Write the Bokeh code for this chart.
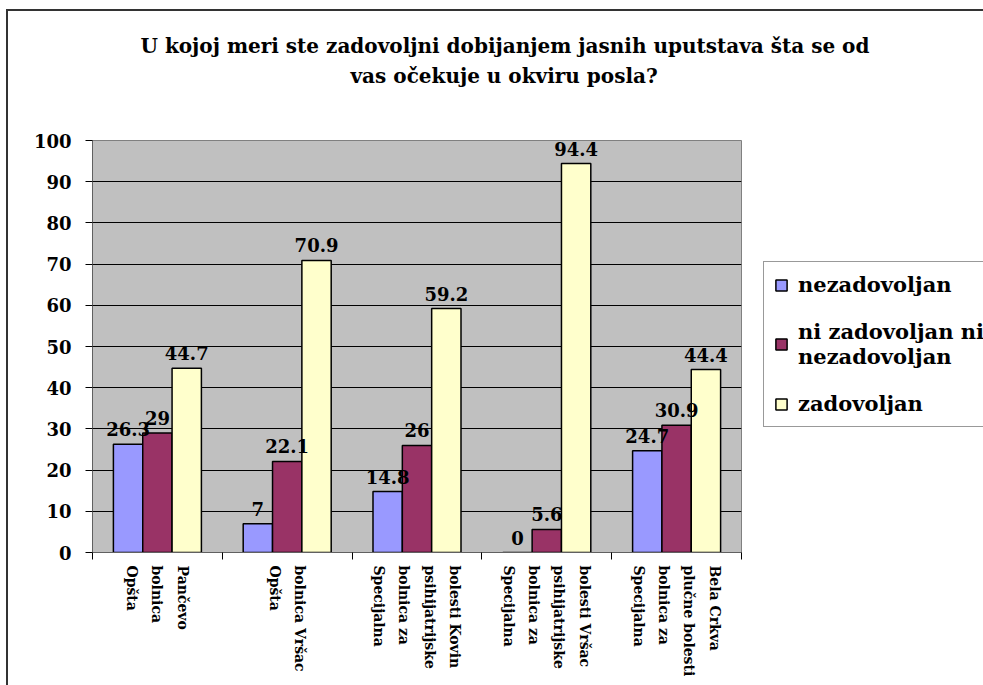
import numpy as np
from bokeh.plotting import figure
from bokeh.models import (ColumnDataSource, Range1d, FixedTicker, Label,
                          Legend, LegendItem, Title)
from bokeh.embed import file_html
from bokeh.resources import INLINE

# ---- data ----
title_lines = ["U kojoj meri ste zadovoljni dobijanjem jasnih uputstava šta se od",
               "vas očekuje u okviru posla?"]
categories = [
    "Opšta\nbolnica\nPančevo",
    "Opšta\nbolnica Vršac",
    "Specijalna\nbolnica za\npsihijatrijske\nbolesti Kovin",
    "Specijalna\nbolnica za\npsihijatrijske\nbolesti Vršac",
    "Specijalna\nbolnica za\nplučne bolesti\nBela Crkva",
]
series_names = ["nezadovoljan", "ni zadovoljan ni\nnezadovoljan", "zadovoljan"]
nezadovoljan = [26.3, 7, 14.8, 0, 24.7]
ni_zadovoljan_ni_nezadovoljan = [29, 22.1, 26, 5.6, 30.9]
zadovoljan = [44.7, 70.9, 59.2, 94.4, 44.4]
series_values = [nezadovoljan, ni_zadovoljan_ni_nezadovoljan, zadovoljan]
y_ticks = [0, 10, 20, 30, 40, 50, 60, 70, 80, 90, 100]

# ---- style ----
colors = ["#9999FF", "#993366", "#FFFFCC"]
FONT = "DejaVu Serif"
bar_w = 0.226
line_step = 0.195

p = figure(width=975, height=674, frame_width=649, frame_height=412,
           x_range=Range1d(0, len(categories)), y_range=Range1d(0, 100),
           output_backend="svg", toolbar_location=None,
           min_border_left=84, min_border_right=242, min_border_top=129,
           min_border_bottom=133, background_fill_color="#C0C0C0",
           border_fill_color="white", outline_line_color="#808080")

# title: spacer next to the frame, then line 2, then line 1 (p.title, outermost)
spacer = Title(text=" ", text_font_size="1px", standoff=48)
p.add_layout(spacer, "above")
t2 = Title(text=title_lines[1])
p.add_layout(t2, "above")
p.title.text = title_lines[0]
for t, off in ((p.title, 48), (t2, 258)):
    t.align = "left"
    t.offset = off
    t.standoff = 4
    t.text_font = FONT
    t.text_font_style = "bold"
    t.text_font_size = "20px"
    t.text_color = "black"

centers = np.arange(len(categories)) + 0.5
renderers = []
for k, (vals, col) in enumerate(zip(series_values, colors)):
    xs = centers + (k - 1) * bar_w
    src = ColumnDataSource(dict(x=xs, top=vals))
    r = p.vbar(x="x", top="top", width=bar_w, bottom=0, source=src,
               fill_color=col, line_color="black", line_width=1.5)
    renderers.append(r)
    for xv, v in zip(xs, vals):
        p.add_layout(Label(x=xv, y=v, text="%g" % v, text_align="center",
                           text_baseline="alphabetic", y_offset=15,
                           text_font=FONT, text_font_style="bold",
                           text_font_size="18px", text_color="black"))

# y axis
p.yaxis.ticker = FixedTicker(ticks=y_ticks)
p.yaxis.minor_tick_line_color = None
p.yaxis.major_tick_out = 7
p.yaxis.major_tick_in = 0
p.yaxis.major_tick_line_color = "black"
p.yaxis.axis_line_color = "#606060"
p.yaxis.major_label_standoff = 14
p.yaxis.major_label_text_font = FONT
p.yaxis.major_label_text_font_style = "bold"
p.yaxis.major_label_text_font_size = "18px"
p.yaxis.major_label_text_color = "black"

# x axis: each category line is its own vertical label
tick_pos, overrides = [], {}
for i, cat in enumerate(categories):
    lines = cat.split("\n")
    n = len(lines)
    for j, ln in enumerate(lines):
        pos = round(i + 0.5 + (j - (n - 1) / 2) * line_step, 4)
        tick_pos.append(pos)
        overrides[pos] = ln
p.xaxis.ticker = FixedTicker(ticks=tick_pos,
                             minor_ticks=list(range(len(categories) + 1)))
p.xaxis.major_label_overrides = overrides
p.xaxis.major_tick_line_color = None
p.xaxis.major_tick_out = 7
p.xaxis.major_tick_in = 0
p.xaxis.minor_tick_out = 7
p.xaxis.minor_tick_in = 0
p.xaxis.minor_tick_line_color = "black"
p.xaxis.axis_line_color = "#606060"
p.xaxis.major_label_orientation = "vertical"
p.xaxis.major_label_standoff = 6
p.xaxis.major_label_text_font = FONT
p.xaxis.major_label_text_font_style = "bold"
p.xaxis.major_label_text_font_size = "14px"
p.xaxis.major_label_text_color = "black"

p.xgrid.grid_line_color = None
p.ygrid.ticker = FixedTicker(ticks=y_ticks)
p.ygrid.grid_line_color = "black"
p.ygrid.grid_line_width = 1

legend = Legend(items=[LegendItem(label=n, renderers=[r])
                       for n, r in zip(series_names, renderers)],
                location=(22, 125), margin=0, padding=10, spacing=22,
                glyph_width=14, glyph_height=14, label_standoff=10,
                label_text_font=FONT, label_text_font_style="bold",
                label_text_font_size="21px", label_text_line_height=1.1,
                label_text_color="black", label_height=24,
                border_line_color="#333333", border_line_width=1,
                background_fill_color="white")
p.add_layout(legend, "right")

p.styles = {"margin-left": "6px", "margin-top": "9px",
            "border-left": "2px solid #333333", "border-top": "2px solid #333333"}

open("out.html", "w").write(file_html(p, INLINE))
